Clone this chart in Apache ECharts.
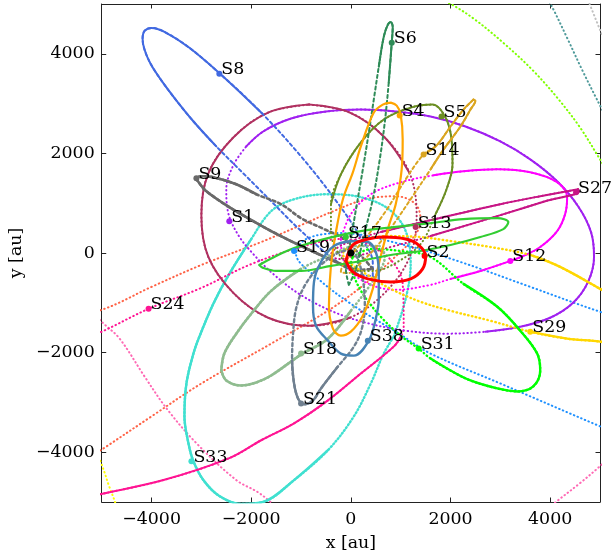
<!DOCTYPE html>
<html><head><meta charset="utf-8">
<script src="https://cdn.jsdelivr.net/npm/echarts@6/dist/echarts.min.js"></script>
<style>html,body{margin:0;padding:0;background:#fff}#c{width:612px;height:557px}</style>
</head><body><div id="c"></div>
<script>
// ---------- data (au) ----------
const tickValues = [-4000, -2000, 0, 2000, 4000];

const S1_orbit = [[-2100,2140],[-1760,2440],[-1200,2700],[-500,2840],[200,2880],[900,2840],[1600,2740],[2300,2540],[3000,2240],[3600,1880],[4140,1440],[4560,940],[4820,420],[4880,-80],[4760,-580],[4460,-1000],[4000,-1300],[3400,-1480],[2700,-1580],[1900,-1620],[1100,-1560],[300,-1400],[-400,-1160],[-1040,-820],[-1560,-420],[-1960,-20],[-2260,360],[-2460,800],[-2500,1280],[-2360,1760]];
const S2_orbit = [[-100,-160],[40,160],[340,280],[660,320],[1100,280],[1360,160],[1500,-60],[1440,-320],[1200,-520],[800,-580],[340,-520],[40,-380]];
const S4_orbit = [[800,3020],[920,2960],[1000,2780],[1040,2280],[1020,1680],[900,980],[760,540],[600,-60],[440,-720],[240,-1260],[0,-1580],[-200,-1660],[-360,-1520],[-440,-1060],[-400,-260],[-300,420],[-160,1080],[40,1620],[200,2140],[460,2820],[640,2980]];
const S5_orbit = [[140,-360],[-200,-80],[-400,440],[-400,980],[-200,1580],[200,2220],[660,2680],[1200,2920],[1640,2980],[1900,2720],[2020,2280],[2040,1780],[1920,1280],[1700,780],[1400,180],[900,-200],[460,-360]];
const S6_orbit = [[-40,-640],[-100,-320],[0,280],[120,980],[240,1680],[360,2420],[460,3080],[560,3740],[660,4340],[740,4580],[800,4640],[840,4540],[820,4220],[760,3420],[680,2620],[580,1880],[440,1080],[260,340],[100,-320]];
const S8_orbit = [[440,-460],[440,-200],[180,340],[-320,1080],[-1000,1940],[-1780,2800],[-2560,3540],[-3240,4120],[-3740,4440],[-4000,4520],[-4140,4460],[-4180,4300],[-4140,4080],[-4020,3800],[-3800,3460],[-3500,3060],[-3140,2620],[-2700,2140],[-2160,1600],[-1600,1040],[-1040,480],[-400,-80],[140,-420]];
const S9_orbit = [[440,-320],[-140,280],[-540,480],[-1000,700],[-1400,980],[-1900,1180],[-2300,1380],[-2760,1520],[-3000,1540],[-3100,1500],[-3040,1400],[-2900,1240],[-2440,920],[-1960,640],[-1600,440],[-1000,140],[-340,-160],[100,-340]];
const S12_orbit = [[-200,280],[0,780],[400,1180],[1000,1420],[1660,1560],[2260,1640],[2940,1680],[3600,1620],[4140,1420],[4340,1120],[4300,780],[4140,440],[3800,120],[3460,-60],[3200,-160],[2600,-360],[2000,-520],[1600,-640],[900,-740],[240,-560],[-140,-160]];
const S13_orbit = [[-840,2980],[-20,2820],[680,2320],[1180,1600],[1320,760],[1180,-80],[680,-800],[-20,-1300],[-840,-1460],[-1660,-1300],[-2360,-800],[-2860,-80],[-3000,760],[-2860,1600],[-2360,2320],[-1660,2820]];
const S14_orbit = [[2460,3080],[2260,2880],[2000,2540],[1720,2160],[1460,1980],[1100,1480],[700,840],[360,380],[40,0],[-160,-240],[-200,-380],[-40,-400],[200,-200],[560,180],[900,640],[1240,1140],[1600,1680],[1860,2080],[2200,2540],[2400,2880],[2500,3060]];
const S17_orbit = [[-1840,-240],[-1500,-60],[-1140,100],[-460,300],[200,440],[860,520],[1600,600],[2260,680],[2940,700],[3160,620],[3060,480],[2600,320],[2000,160],[1400,40],[800,-40],[200,-160],[-400,-260],[-1000,-360],[-1500,-360],[-1760,-300]];
const S18_orbit = [[-2600,-2360],[-2540,-2020],[-2300,-1620],[-2000,-1220],[-1600,-760],[-1000,-320],[-400,-40],[100,140],[560,140],[680,-80],[440,-560],[0,-1160],[-460,-1720],[-1000,-2040],[-1600,-2460],[-1900,-2600],[-2200,-2660],[-2500,-2560]];
const S19_orbit = [[7000,-4320],[5000,-3480],[3000,-2620],[1600,-2020],[1000,-1640],[0,-1020],[-700,-480],[-1100,-20],[-900,280],[-200,400],[1000,180],[2200,-180],[3600,-680],[5000,-1180],[7000,-1820],[8200,-3120]];
const S21_orbit = [[0,80],[-300,-20],[-640,-280],[-940,-680],[-1100,-1120],[-1160,-1620],[-1180,-2160],[-1140,-2620],[-1060,-2920],[-940,-3040],[-760,-2960],[-600,-2720],[-260,-2280],[60,-1880],[220,-1520],[280,-1020],[240,-520],[140,-120]];
const S24_orbit = [[-6200,-2080],[-5000,-1580],[-4060,-1120],[-3000,-700],[-2040,-240],[-1000,120],[-200,280],[600,40],[1040,-620],[1060,-1520],[1000,-1680],[860,-1880],[200,-2420],[-460,-2960],[-1140,-3420],[-1800,-3760],[-2440,-4120],[-3760,-4560],[-5100,-4860],[-6200,-5120]];
const S27_orbit = [[4560,1280],[3800,1140],[3000,980],[1600,660],[600,420],[0,240],[-340,60],[-400,-40],[-240,-120],[200,-40],[800,120],[1600,340],[3000,760],[3900,1040],[4580,1240]];
const S29_orbit = [[7400,-2220],[6000,-1960],[5000,-1780],[4340,-1720],[3600,-1580],[2800,-1360],[2000,-1160],[1400,-980],[800,-720],[300,-420],[-40,-180],[-160,-20],[-40,120],[300,280],[800,340],[1400,320],[2000,240],[2800,120],[3600,-40],[4200,-280],[5000,-720],[6000,-1280],[7000,-1820]];
const S31_orbit = [[40,-80],[400,80],[1000,40],[1600,-80],[2260,-620],[2940,-1080],[3400,-1560],[3740,-2020],[3800,-2360],[3660,-2680],[3340,-2780],[2940,-2720],[2400,-2560],[2000,-2360],[1600,-2120],[1360,-1920],[1000,-1660],[600,-1280],[240,-820],[40,-420],[0,-220]];
const S33_orbit = [[860,-1680],[1100,-920],[1200,-220],[1100,440],[760,880],[200,1120],[-460,1180],[-1140,1080],[-1600,840],[-2000,280],[-2440,-420],[-2760,-1020],[-3040,-1680],[-3160,-2020],[-3300,-2620],[-3340,-3280],[-3260,-3820],[-3160,-4180],[-2960,-4560],[-2640,-4880],[-2200,-5040],[-1760,-5000],[-1140,-4560],[-460,-3960],[60,-3280],[400,-2620],[660,-2020]];
const S38_orbit = [[0,240],[340,220],[500,20],[560,-380],[560,-920],[500,-1320],[360,-1760],[60,-2060],[-200,-2020],[-460,-1760],[-700,-1460],[-760,-1060],[-740,-580],[-600,-180],[-340,140]];
// orbits of stars whose labels lie outside the frame
const tomato_orbit = [[-6200,-1420],[-5000,-1140],[-4000,-680],[-3000,-240],[-1800,220],[-1000,560],[-400,820],[300,1080],[900,1140],[1300,980],[1400,640],[1200,240],[800,-160],[360,-560],[-400,-1120],[-1600,-1820],[-3000,-2620],[-4000,-3280],[-4960,-3920],[-6200,-4720]];
const hotpink_orbit = [[-5800,-620],[-4960,-1420],[-4640,-1720],[-4140,-2480],[-3700,-3120],[-3100,-3820],[-2300,-4560],[-1840,-4820],[-1200,-5320],[0,-5920],[2000,-6020],[3600,-5420],[4140,-4980],[4600,-4620],[5000,-4280],[5800,-3520]];
const yellow_orbit = [[-5200,-3720],[-4960,-4360],[-4860,-4660],[-4740,-4980],[-4640,-5320]];
const chartreuse_orbit = [[1600,5180],[2040,4980],[2500,4680],[3060,4220],[3640,3680],[4140,3120],[4600,2520],[5000,1880],[5300,1380]];
const cadet_orbit = [[3900,5180],[4040,4940],[4340,4320],[4640,3680],[4940,3080],[5200,2580]];
const gray_orbit = [[4760,5080],[4840,4880],[4960,4580],[5080,4280]];

const starNames = ['S1','S2','S4','S5','S6','S8','S9','S12','S13','S14','S17','S18','S19','S21','S24','S27','S29','S31','S33','S38'];
const starX = [-2440,1480,980,1820,820,-2640,-3100,3200,1300,1460,-100,-1000,-1140,-1000,-4060,4520,3600,1360,-3200,340];
const starY = [640,-60,2760,2740,4220,3600,1500,-160,520,1980,320,-2020,40,-3020,-1120,1220,-1580,-1920,-4180,-1760];
const centre = [0, 0];

// ---------- styles ----------
const DOT = [0.5, 3.5], DASH = [3, 3];
const orbitDefs = [
  {d: hotpink_orbit, c:'#ff69b4', closed:false, base:DOT},
  {d: yellow_orbit, c:'#ffff00', closed:false, base:DOT},
  {d: chartreuse_orbit, c:'#7fff00', closed:false, base:DOT},
  {d: cadet_orbit, c:'#4f9a9a', closed:false, base:DOT},
  {d: gray_orbit, c:'#c0c0c0', closed:false, base:DOT},
  {d: tomato_orbit, c:'#ff6347', closed:false, base:DOT},
  {d: S33_orbit, c:'#40e0d0', closed:true, base:[1,2.5], solid:[[9,23]], w:2.4},
  {d: S24_orbit, c:'#ff1493', closed:false, base:DOT, solid:[[10,19]]},
  {d: S19_orbit, c:'#1e90ff', closed:true, base:DOT},
  {d: S1_orbit, c:'#a020f0', closed:true, base:DOT, solid:[[0,18]]},
  {d: S13_orbit, c:'#b03060', closed:true, base:DOT, solid:[[7,16],[0,3]]},
  {d: S8_orbit, c:'#4169e1', closed:true, base:DASH, solid:[[5,17]]},
  {d: S9_orbit, c:'#696969', closed:true, base:DASH, solid:[[5,17]], w:2.6},
  {d: S12_orbit, c:'#ff00ff', closed:true, base:DOT, solid:[[4,16]]},
  {d: S27_orbit, c:'#c71585', closed:true, base:DOT, solid:[[0,4],[11,15]]},
  {d: S29_orbit, c:'#ffd700', closed:true, base:DOT, solid:[[0,4],[18,23]], w:2.4},
  {d: S31_orbit, c:'#00ff00', closed:true, base:DOT, solid:[[4,14]], w:2.4},
  {d: S18_orbit, c:'#8fbc8f', closed:true, base:DOT, solid:[[0,5],[11,18]], w:2.6},
  {d: S21_orbit, c:'#708090', closed:true, base:DASH, solid:[[6,12]], w:2.4},
  {d: S5_orbit, c:'#6b8e23', closed:true, base:DOT, solid:[[3,13]]},
  {d: S14_orbit, c:'#daa520', closed:true, base:DASH, solid:[[0,4],[16,21]]},
  {d: S6_orbit, c:'#2e8b57', closed:true, base:DASH, solid:[[7,13]]},
  {d: S4_orbit, c:'#ffa500', closed:true, base:null, w:2.2},
  {d: S17_orbit, c:'#32cd32', closed:true, base:null, w:2.2},
  {d: S38_orbit, c:'#4682b4', closed:true, base:null, w:2.4},
  {d: S2_orbit, c:'#ff0000', closed:true, base:null, w:3}
];
const starColors = {S1:'#a020f0',S2:'#ff0000',S4:'#ffa500',S5:'#6b8e23',S6:'#2e8b57',S8:'#4169e1',S9:'#696969',S12:'#ff00ff',S13:'#b03060',S14:'#daa520',S17:'#32cd32',S18:'#8fbc8f',S19:'#1e90ff',S21:'#708090',S24:'#ff1493',S27:'#c71585',S29:'#ffd700',S31:'#00ff00',S33:'#40e0d0',S38:'#4682b4'};

const FONT = 'DejaVu Serif';
const series = [];
orbitDefs.forEach(o => {
  const pts = o.closed ? o.d.concat([o.d[0]]) : o.d;
  const w = o.w || 2;
  const common = {type:'line', smooth:0.35, symbol:'none', silent:true, animation:false, clip:true};
  series.push(Object.assign({}, common, {data: pts,
    lineStyle:{color:o.c, width:w, type: o.base || 'solid', cap:'round'}}));
  (o.solid || []).forEach(r => {
    series.push(Object.assign({}, common, {data: pts.slice(r[0], r[1] + 1),
      lineStyle:{color:o.c, width:w, type:'solid', cap:'round'}}));
  });
});
series.push({
  type:'scatter', symbolSize:6, silent:true, animation:false, z:5,
  itemStyle:{opacity:1},
  data: starNames.map((n, i) => ({name:n, value:[starX[i], starY[i]], itemStyle:{color:starColors[n], opacity:1}})),
  label:{show:true, formatter:'{b}', position:[5, 7.5], align:'left', verticalAlign:'bottom', opacity:1,
    color:'#000', textBorderWidth:0, fontFamily:FONT, fontSize:17.4}
});
series.push({type:'scatter', symbolSize:7, silent:true, animation:false, z:6,
  itemStyle:{color:'#000', opacity:1}, data:[centre]});

const minus = v => String(v).replace('-', '\u2212');
const axisCommon = {
  type:'value', min:-5000, max:5000,
  splitLine:{show:false},
  axisLine:{show:true, onZero:false, lineStyle:{color:'#222', width:1}},
  axisTick:{show:true, inside:true, length:4.5, customValues:tickValues, lineStyle:{color:'#222', width:1}},
};
const chart = echarts.init(document.getElementById('c'), null, {renderer:'canvas'});
chart.setOption({
  animation:false,
  backgroundColor:'#fff',
  grid:{left:100, top:4, width:500, height:500},
  xAxis:[
    Object.assign({}, axisCommon, {position:'bottom', name:'x [au]', nameLocation:'middle', nameGap:33,
      nameTextStyle:{fontFamily:FONT, fontSize:17.4, color:'#000'},
      axisLabel:{customValues:tickValues, formatter:minus, margin:9, fontFamily:FONT, fontSize:17.4, color:'#000'}}),
    Object.assign({}, axisCommon, {position:'top', axisLabel:{show:false}})
  ],
  yAxis:[
    Object.assign({}, axisCommon, {position:'left', name:'y [au]', nameLocation:'middle', nameGap:74, nameRotate:90,
      nameTextStyle:{fontFamily:FONT, fontSize:17.4, color:'#000'},
      axisLabel:{customValues:tickValues, formatter:minus, margin:7, fontFamily:FONT, fontSize:17.4, color:'#000'}}),
    Object.assign({}, axisCommon, {position:'right', axisLabel:{show:false}})
  ],
  series: series
});
</script></body></html>
